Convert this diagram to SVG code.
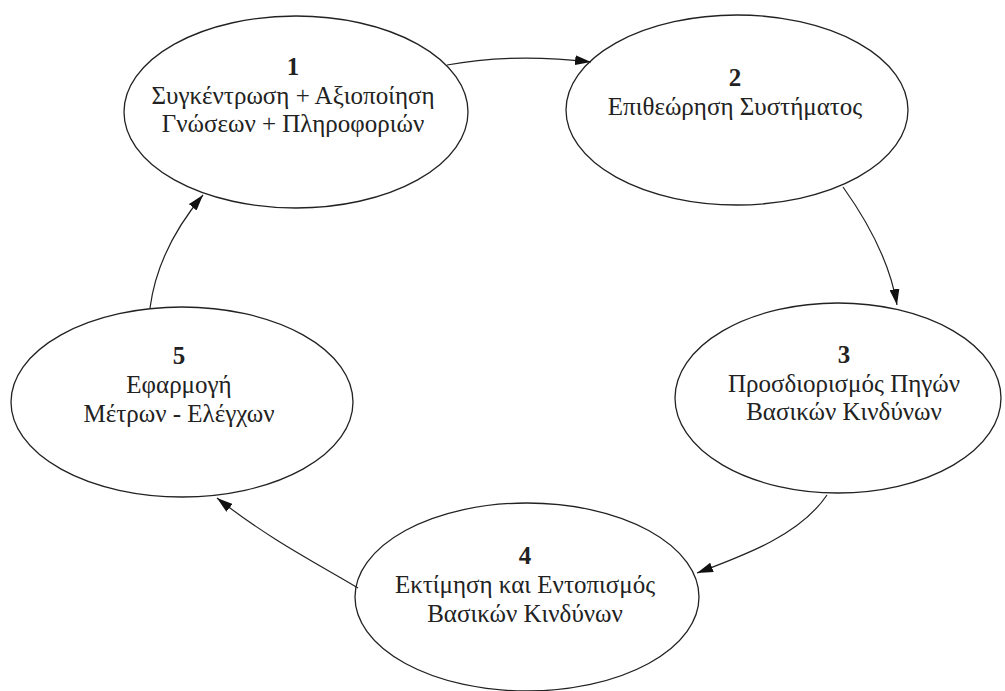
<svg xmlns="http://www.w3.org/2000/svg" width="1005" height="691" viewBox="0 0 1005 691">
<style>
.node ellipse{fill:#fff;stroke:#222;stroke-width:1.3}
.node text{font-family:"Liberation Serif","DejaVu Serif","Times New Roman",serif;font-size:25px;fill:#222;text-anchor:middle}
.node .num{font-weight:bold}
.edge{fill:none;stroke:#222;stroke-width:1.2;marker-end:url(#arr)}
</style>
<defs>
<marker id="arr" viewBox="0 0 16 10" refX="16" refY="5" markerWidth="16" markerHeight="10" markerUnits="userSpaceOnUse" orient="auto">
<path d="M0,0 L16,5 L0,10 z" fill="#111"/>
</marker>
</defs>
<rect width="1005" height="691" fill="#fff"/>
<g id="n1" class="node">
<ellipse cx="296" cy="112" rx="172" ry="96"/>
<text x="293" y="75" class="num">1</text>
<text x="293" y="104">Συγκέντρωση + Αξιοποίηση</text>
<text x="293" y="132">Γνώσεων + Πληροφοριών</text>
</g>
<g id="n2" class="node">
<ellipse cx="737" cy="110" rx="171" ry="95"/>
<text x="735" y="86" class="num">2</text>
<text x="735" y="115">Επιθεώρηση Συστήματος</text>
</g>
<g id="n3" class="node">
<ellipse cx="838" cy="398" rx="163" ry="95"/>
<text x="844" y="363" class="num">3</text>
<text x="844" y="392">Προσδιορισμός Πηγών</text>
<text x="844" y="420">Βασικών Κινδύνων</text>
</g>
<g id="n4" class="node">
<ellipse cx="527" cy="597" rx="172" ry="94"/>
<text x="525" y="564" class="num">4</text>
<text x="525" y="593">Εκτίμηση και Εντοπισμός</text>
<text x="525" y="622">Βασικών Κινδύνων</text>
</g>
<g id="n5" class="node">
<ellipse cx="182" cy="402" rx="171" ry="95"/>
<text x="179" y="364" class="num">5</text>
<text x="179" y="393">Εφαρμογή</text>
<text x="179" y="422">Μέτρων - Ελέγχων</text>
</g>
<g id="connectors">
<path class="edge" d="M447,65 C490,57 540,56 591,62"/>
<path class="edge" d="M843,187 C868,222 890,262 897,305"/>
<path class="edge" d="M827,495 C800,535 745,555 697,573"/>
<path class="edge" d="M358,588 C320,565 270,540 217,498"/>
<path class="edge" d="M150,308 C155,270 172,232 203,195"/>
</g>
</svg>
